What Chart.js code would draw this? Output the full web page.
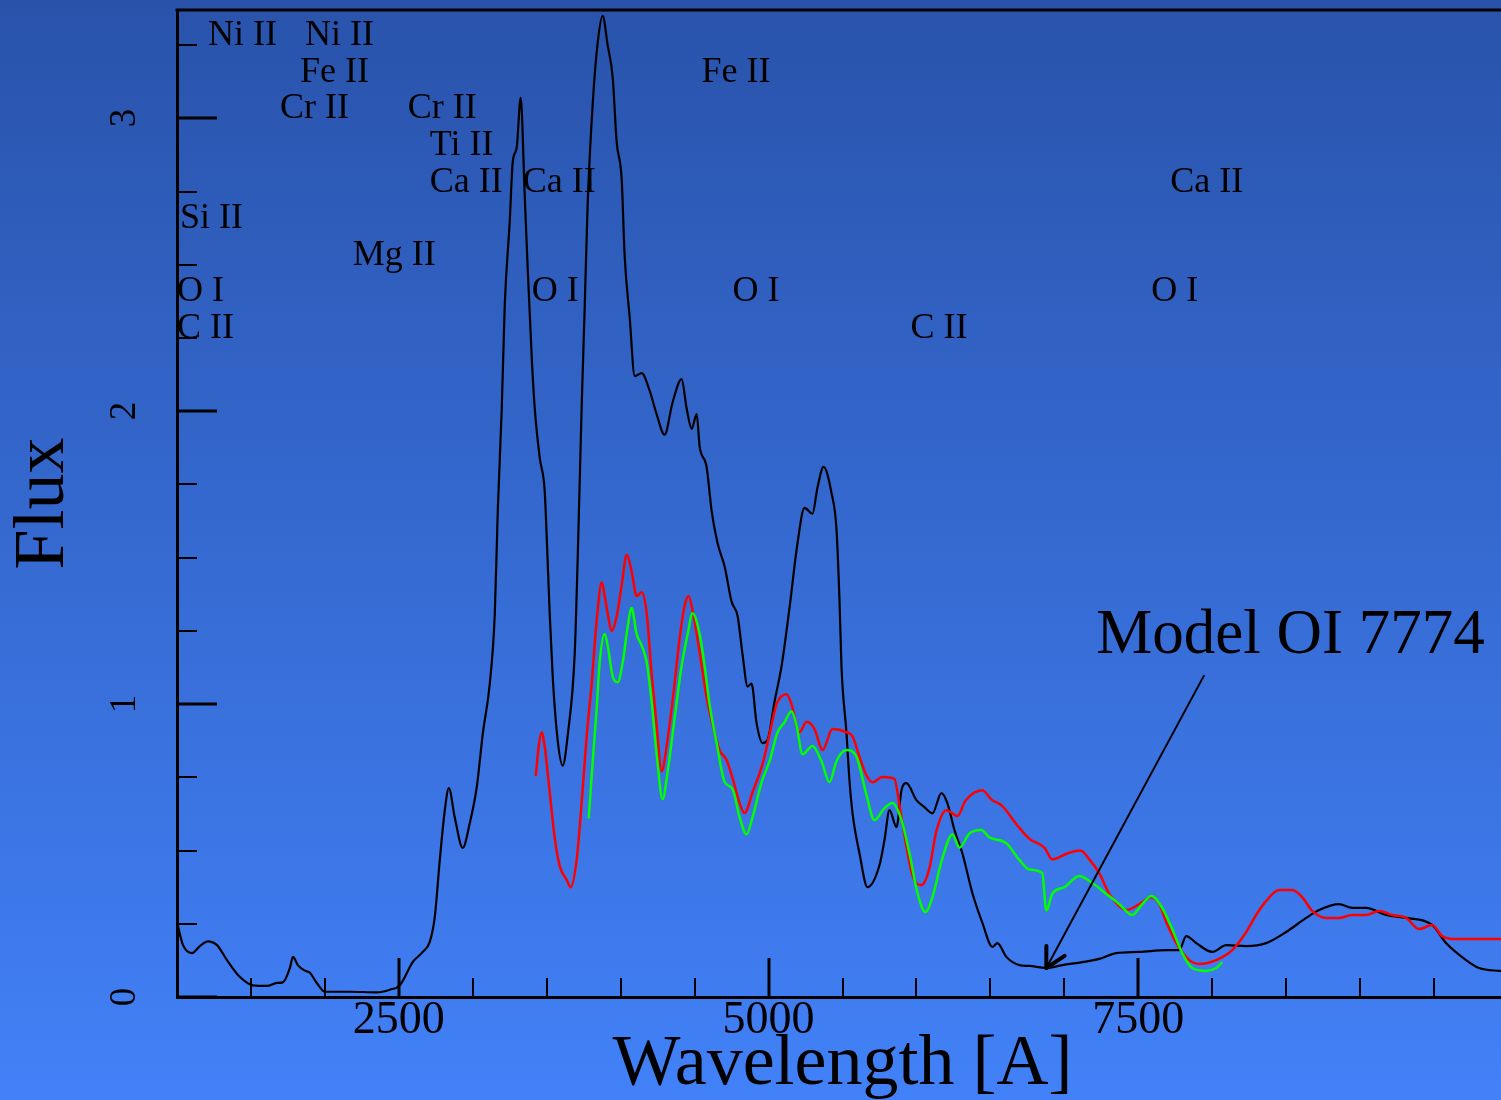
<!DOCTYPE html>
<html>
<head>
<meta charset="utf-8">
<title>Flux vs Wavelength</title>
<script src="https://cdn.jsdelivr.net/npm/chart.js@4.4.1/dist/chart.umd.min.js"></script>
<style>
  html, body { margin: 0; padding: 0; background: #3a6ee0; overflow: hidden; }
  #wrap { width: 1509px; height: 1100px; }
</style>
</head>
<body>
<div id="wrap"><canvas id="spectrum" width="1509" height="1100"></canvas></div>
<script>
// observed spectrum (black)
const blackWave = [1000, 1041, 1101, 1155, 1209, 1270, 1338, 1426, 1514, 1608, 1676, 1716, 1764, 1784, 1818, 1865, 1899, 1946, 2000, 2169,
  2351, 2439, 2507, 2595, 2662, 2709, 2743, 2777, 2811, 2838, 2878, 2932, 2980, 3027, 3068, 3115, 3149, 3169, 3196, 3216,
  3250, 3270, 3297, 3324, 3351, 3372, 3399, 3419, 3453, 3486, 3500, 3520, 3541, 3574, 3608, 3642, 3689, 3709, 3736, 3757,
  3777, 3811, 3845, 3878, 3912, 3946, 3973, 4007, 4027, 4061, 4095, 4142, 4196, 4243, 4297, 4351, 4412, 4446, 4480, 4514,
  4534, 4581, 4615, 4655, 4703, 4750, 4791, 4824, 4858, 4885, 4919, 4959, 4993, 5041, 5088, 5142, 5196, 5243, 5297, 5331,
  5372, 5426, 5459, 5480, 5493, 5527, 5547, 5568, 5615, 5669, 5750, 5784, 5818, 5865, 5899, 5932, 6000, 6054, 6108, 6169,
  6209, 6257, 6311, 6378, 6446, 6514, 6547, 6608, 6696, 6764, 6878, 6986, 7122, 7236, 7351, 7507, 7689, 7777, 7824, 7892,
  8000, 8095, 8230, 8365, 8500, 8635, 8723, 8858, 8946, 9041, 9176, 9311, 9487, 9581, 9716, 9804, 9946, 10000];
const blackFlux = [0.256, 0.177, 0.15, 0.174, 0.19, 0.177, 0.126, 0.068, 0.04, 0.038, 0.048, 0.05, 0.10, 0.137, 0.108, 0.09, 0.083, 0.047, 0.018, 0.018,
  0.016, 0.025, 0.04, 0.12, 0.154, 0.188, 0.273, 0.468, 0.638, 0.713, 0.614, 0.509, 0.594, 0.717, 0.90, 1.07, 1.31, 1.66, 2.01, 2.36,
  2.65, 2.85, 2.90, 3.07, 2.74, 2.48, 2.18, 2.01, 1.84, 1.73, 1.57, 1.31, 1.09, 0.877, 0.79, 0.894, 1.17, 1.49, 2.01, 2.36,
  2.71, 3.05, 3.26, 3.35, 3.25, 3.14, 2.92, 2.79, 2.53, 2.32, 2.12, 2.13, 2.07, 1.99, 1.92, 2.03, 2.11, 2.01, 1.94, 1.99,
  1.88, 1.81, 1.66, 1.55, 1.47, 1.35, 1.30, 1.17, 1.06, 1.07, 0.935, 0.867, 0.877, 1.01, 1.13, 1.33, 1.55, 1.67, 1.65, 1.74,
  1.81, 1.72, 1.60, 1.35, 1.13, 0.90, 0.74, 0.627, 0.49, 0.375, 0.45, 0.536, 0.638, 0.58, 0.706, 0.73, 0.672, 0.648, 0.627, 0.696,
  0.662, 0.57, 0.49, 0.355, 0.253, 0.171, 0.184, 0.137, 0.109, 0.106, 0.099, 0.109, 0.119, 0.13, 0.15, 0.154, 0.16, 0.16, 0.208, 0.184,
  0.154, 0.177, 0.174, 0.184, 0.222, 0.27, 0.297, 0.317, 0.304, 0.304, 0.28, 0.27, 0.246, 0.184, 0.126, 0.099, 0.089, 0.087];

// model (red)
const redWave = [3426, 3446, 3466, 3486, 3520, 3554, 3588, 3635, 3662, 3703, 3736, 3770, 3804, 3838, 3872, 3892, 3912, 3939, 3973, 4007,
  4041, 4074, 4108, 4142, 4176, 4209, 4243, 4277, 4311, 4351, 4399, 4432, 4459, 4486, 4534, 4581, 4622, 4669, 4716, 4757,
  4804, 4838, 4892, 4959, 5020, 5054, 5122, 5155, 5209, 5257, 5311, 5365, 5432, 5527, 5568, 5615, 5662, 5703, 5770, 5851,
  5885, 5932, 5973, 6034, 6088, 6135, 6203, 6277, 6331, 6446, 6507, 6581, 6676, 6764, 6865, 6919, 7020, 7108, 7169, 7236,
  7304, 7419, 7507, 7588, 7642, 7689, 7757, 7845, 7912, 8027, 8135, 8230, 8297, 8365, 8453, 8541, 8608, 8676, 8770, 8858,
  8946, 9041, 9128, 9216, 9311, 9399, 9487, 9554, 9622, 9716, 9824, 9946, 10000];
const redFlux = [0.754, 0.857, 0.904, 0.857, 0.70, 0.543, 0.447, 0.40, 0.375, 0.471, 0.662, 0.89, 1.07, 1.287, 1.416, 1.369, 1.31, 1.25, 1.30, 1.406,
  1.51, 1.454, 1.369, 1.382, 1.31, 1.106, 0.928, 0.771, 0.857, 1.01, 1.225, 1.334, 1.369, 1.32, 1.177, 1.024, 0.928, 0.843, 0.809, 0.747,
  0.662, 0.628, 0.70, 0.795, 0.928, 1.0, 1.034, 1.0, 0.904, 0.94, 0.915, 0.843, 0.915, 0.904, 0.89, 0.82, 0.757, 0.733, 0.751, 0.745,
  0.655, 0.515, 0.415, 0.382, 0.44, 0.567, 0.638, 0.618, 0.67, 0.706, 0.674, 0.652, 0.59, 0.54, 0.51, 0.47, 0.49, 0.5, 0.47, 0.423,
  0.352, 0.297, 0.317, 0.341, 0.317, 0.256, 0.184, 0.126, 0.113, 0.126, 0.16, 0.222, 0.28, 0.328, 0.365, 0.365, 0.341, 0.294, 0.27, 0.27,
  0.28, 0.28, 0.294, 0.28, 0.27, 0.232, 0.246, 0.208, 0.198, 0.198, 0.198, 0.198, 0.2];

// model OI 7774 (green)
const greenWave = [3784, 3811, 3838, 3858, 3892, 3912, 3946, 3980, 4014, 4047, 4074, 4108, 4142, 4176, 4209, 4243, 4284, 4318, 4365, 4412,
  4453, 4486, 4534, 4568, 4601, 4649, 4703, 4757, 4804, 4851, 4892, 4953, 5007, 5061, 5108, 5155, 5189, 5230, 5297, 5358,
  5412, 5459, 5527, 5595, 5662, 5716, 5784, 5838, 5899, 5953, 6007, 6061, 6108, 6176, 6243, 6291, 6358, 6439, 6493, 6608,
  6696, 6764, 6851, 6878, 6919, 7000, 7101, 7189, 7284, 7372, 7459, 7527, 7588, 7662, 7730, 7797, 7865, 7959, 8027, 8068];
const greenFlux = [0.61, 0.805, 0.986, 1.143, 1.239, 1.2, 1.095, 1.075, 1.143, 1.263, 1.328, 1.239, 1.2, 1.143, 1.01, 0.83, 0.676, 0.771, 0.952, 1.13,
  1.239, 1.31, 1.239, 1.13, 1.0, 0.867, 0.734, 0.71, 0.614, 0.556, 0.614, 0.734, 0.805, 0.904, 0.938, 0.976, 0.928, 0.829, 0.857, 0.805,
  0.734, 0.805, 0.843, 0.82, 0.69, 0.604, 0.645, 0.662, 0.604, 0.49, 0.355, 0.29, 0.341, 0.475, 0.555, 0.51, 0.558, 0.57, 0.545, 0.525,
  0.468, 0.435, 0.423, 0.295, 0.353, 0.375, 0.413, 0.389, 0.352, 0.317, 0.28, 0.317, 0.345, 0.304, 0.232, 0.15, 0.099, 0.089, 0.099, 0.119];

// line identifications: text, wavelength of left edge, flux of baseline
const ionLabels = ['Ni II', 'Ni II', 'Fe II', 'Cr II', 'Cr II', 'Ti II', 'Ca II', 'Ca II', 'Si II', 'Mg II',
  'O I', 'C II', 'O I', 'Fe II', 'O I', 'C II', 'Ca II', 'O I'];
const ionWave = [1209, 1865, 1831, 1696, 2561, 2709, 2709, 3338, 1020, 2189,
  1000, 1000, 3399, 4547, 4757, 5959, 7716, 7588];
const ionFlux = [3.25, 3.25, 3.125, 3.0, 3.0, 2.875, 2.75, 2.75, 2.625, 2.5,
  2.375, 2.25, 2.375, 3.125, 2.375, 2.25, 2.75, 2.375];

// arrow annotation
const noteText = 'Model OI 7774';
const noteAt = [7216, 1.174];
const arrowFrom = [7946, 1.099];
const arrowTo = [6878, 0.099];

const SERIF = '"Liberation Serif", "Times New Roman", serif';
Chart.defaults.font.family = SERIF;

function pairs(xs, ys) {
  return xs.map((v, i) => ({ x: v, y: ys[i] }));
}

const decorations = {
  id: 'decorations',
  beforeDraw(chart) {
    const { ctx, width, height } = chart;
    const g = ctx.createLinearGradient(0, 0, 0, height);
    g.addColorStop(0, '#2953ab');
    g.addColorStop(1, '#4281f8');
    ctx.save();
    ctx.fillStyle = g;
    ctx.fillRect(0, 0, width, height);
    ctx.restore();
  },
  afterDraw(chart) {
    const { ctx, chartArea: area } = chart;
    const x = chart.scales.x, y = chart.scales.y;
    ctx.save();
    ctx.strokeStyle = '#000';
    ctx.fillStyle = '#000';

    // top frame
    ctx.lineWidth = 3;
    ctx.beginPath();
    ctx.moveTo(area.left - 1.5, area.top);
    ctx.lineTo(area.right, area.top);
    ctx.stroke();

    // inward ticks on x
    x.ticks.forEach(t => {
      if (t.value % 500 !== 0) return;
      const major = t.value % 2500 === 0;
      const px = Math.round(x.getPixelForValue(t.value));
      ctx.lineWidth = major ? 3 : 2;
      ctx.beginPath();
      ctx.moveTo(px, area.bottom);
      ctx.lineTo(px, area.bottom - (major ? 39 : 19));
      ctx.stroke();
    });

    // inward ticks and rotated labels on y
    y.ticks.forEach(t => {
      const v = t.value;
      if (Math.abs(v * 4 - Math.round(v * 4)) > 1e-6) return;
      const major = Math.abs(v - Math.round(v)) < 1e-6;
      const py = Math.round(y.getPixelForValue(v));
      ctx.lineWidth = major ? 3 : 2;
      ctx.beginPath();
      ctx.moveTo(area.left, py);
      ctx.lineTo(area.left + (major ? 40 : 20), py);
      ctx.stroke();
      if (major) {
        ctx.save();
        ctx.translate(125, py);
        ctx.rotate(-Math.PI / 2);
        ctx.font = '37px ' + SERIF;
        ctx.textAlign = 'center';
        ctx.textBaseline = 'middle';
        ctx.fillText(String(Math.round(v)), 0, 0);
        ctx.restore();
      }
    });

    // ion labels
    ctx.font = '36px ' + SERIF;
    ctx.textAlign = 'left';
    ctx.textBaseline = 'alphabetic';
    ionLabels.forEach((s, i) => {
      ctx.fillText(s, x.getPixelForValue(ionWave[i]), y.getPixelForValue(ionFlux[i]));
    });

    // model note with arrow
    ctx.font = '63px ' + SERIF;
    ctx.fillText(noteText, x.getPixelForValue(noteAt[0]), y.getPixelForValue(noteAt[1]));
    const x0 = x.getPixelForValue(arrowFrom[0]), y0 = y.getPixelForValue(arrowFrom[1]);
    const x1 = x.getPixelForValue(arrowTo[0]), y1 = y.getPixelForValue(arrowTo[1]);
    ctx.lineWidth = 2;
    ctx.beginPath();
    ctx.moveTo(x0, y0);
    ctx.lineTo(x1, y1);
    ctx.stroke();
    const ang = Math.atan2(y0 - y1, x0 - x1);
    ctx.lineWidth = 4;
    ctx.lineCap = 'round';
    [-0.49, 0.49].forEach(d => {
      ctx.beginPath();
      ctx.moveTo(x1, y1);
      ctx.lineTo(x1 + 22 * Math.cos(ang + d), y1 + 22 * Math.sin(ang + d));
      ctx.stroke();
    });
    ctx.restore();
  }
};

new Chart(document.getElementById('spectrum'), {
  type: 'scatter',
  data: {
    datasets: [
      { label: 'Observed', data: pairs(blackWave, blackFlux), borderColor: '#000000', borderWidth: 2.2, showLine: true, order: 3 },
      { label: 'Model', data: pairs(redWave, redFlux), borderColor: '#ff0000', borderWidth: 2.5, showLine: true, order: 2 },
      { label: 'Model OI 7774', data: pairs(greenWave, greenFlux), borderColor: '#00ff00', borderWidth: 2.5, showLine: true, order: 1 }
    ]
  },
  options: {
    responsive: false,
    animation: false,
    devicePixelRatio: 1,
    layout: { autoPadding: false, padding: { top: 10, right: 0, bottom: 0, left: 0 } },
    elements: {
      point: { radius: 0, hoverRadius: 0 },
      line: { tension: 0, cubicInterpolationMode: 'monotone', fill: false }
    },
    plugins: {
      legend: { display: false },
      tooltip: { enabled: false }
    },
    scales: {
      x: {
        type: 'linear',
        min: 1000,
        max: 10000,
        afterFit(s) { s.height = 103; },
        border: { display: true, color: '#000', width: 3 },
        grid: { display: true, drawOnChartArea: false, drawTicks: false },
        ticks: {
          stepSize: 500,
          autoSkip: false,
          maxRotation: 0,
          padding: 1,
          color: '#000',
          font: { size: 46, lineHeight: 1 },
          callback: v => (v % 2500 === 0 && v < 10000 ? String(v) : '')
        },
        title: {
          display: true,
          text: 'Wavelength [A]',
          color: '#000',
          font: { size: 72, lineHeight: 0.92 },
          padding: { top: 0, bottom: 2 }
        }
      },
      y: {
        min: 0,
        max: 3.37,
        afterFit(s) { s.width = 177; },
        border: { display: true, color: '#000', width: 3 },
        grid: { display: true, drawOnChartArea: false, drawTicks: false },
        ticks: { display: false, stepSize: 0.25 },
        title: {
          display: true,
          text: 'Flux',
          color: '#000',
          font: { size: 72, lineHeight: 1 },
          padding: { top: 8, bottom: 0 }
        }
      }
    }
  },
  plugins: [decorations]
});
</script>
</body>
</html>
